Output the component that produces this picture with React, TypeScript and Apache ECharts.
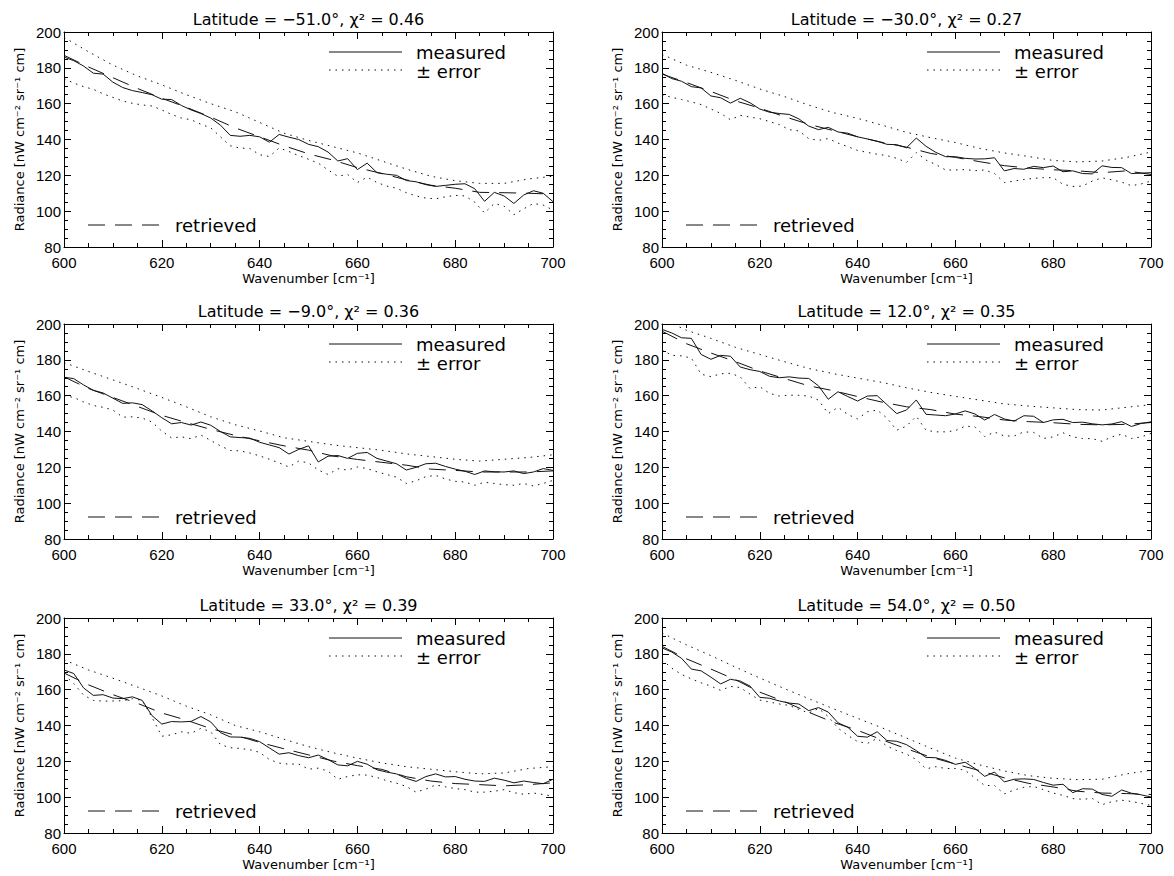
import React, { useEffect, useRef } from "react";
import * as echarts from "echarts";

const WN2 = [600, 602, 604, 606, 608, 610, 612, 614, 616, 618, 620, 622, 624, 626, 628, 630, 632, 634, 636, 638, 640, 642, 644, 646, 648, 650, 652, 654, 656, 658, 660, 662, 664, 666, 668, 670, 672, 674, 676, 678, 680, 682, 684, 686, 688, 690, 692, 694, 696, 698, 700];
const WN5 = [600, 605, 610, 615, 620, 625, 630, 635, 640, 645, 650, 655, 660, 665, 670, 675, 680, 685, 690, 695, 700];
const X_TICKS = { min: 600, max: 700, interval: 20 };
const Y_TICKS = { min: 80, max: 200, interval: 20 };

const P1_MEASURED = [186, 184, 181, 177, 176.5, 172, 169, 167.3, 166.2, 165, 162.5, 162.3, 159, 156.5, 154.5, 152, 148, 142.3, 141.8, 142.3, 141.5, 138.5, 142.8, 141.3, 140, 137.3, 136, 133, 128, 129.3, 123.2, 126.8, 121.5, 120.6, 120, 117.1, 116.4, 114.8, 113.8, 114.4, 115, 115.3, 112.5, 105.5, 110.5, 108.5, 104.3, 109, 111.4, 110, 105.3];
const P1_UPPER = [197, 189, 181.5, 175.5, 170.5, 165, 160, 155.5, 149.5, 143.5, 139.5, 136, 132.5, 128, 123.5, 119.5, 117, 115.5, 115.5, 118, 119.5];
const P1_LOWER = [174, 171.5, 169.5, 168, 165.5, 163.5, 161.5, 160.2, 159.3, 158.7, 156.5, 154, 152, 151, 148.5, 146.5, 141.5, 136.5, 135.2, 135, 131.5, 130.5, 135.3, 133.3, 131, 129, 126.8, 123, 119.5, 120.5, 116, 119, 116, 114, 112.8, 110.3, 108.5, 107.3, 106.9, 108, 108.8, 108.5, 105, 99, 104.3, 102.8, 98, 101.3, 104.3, 103.4, 100.6];
const P1_RETRIEVED = [187, 180.5, 174.5, 168.5, 163, 158, 152.5, 146.5, 141.5, 136.5, 132, 128.5, 124.3, 121, 117.5, 114.5, 112.8, 110.5, 110.3, 110, 109.5];

const P2_MEASURED = [177, 174, 172.5, 169.5, 168.8, 164.3, 163.3, 160.3, 163, 160.5, 157, 155.2, 154.5, 154, 151.5, 147.5, 145.5, 146.8, 144.2, 143.5, 141.5, 140.3, 139, 137.3, 137.1, 135.4, 140.8, 136.2, 132.8, 130.4, 130.4, 129.5, 129.1, 129.2, 129.8, 122.5, 123.8, 123.4, 125, 124.3, 125.2, 122, 122.5, 121, 120.8, 125.3, 124.4, 124.3, 121, 121.2, 121.5];
const P2_UPPER = [187.5, 181.5, 177.5, 173, 168.2, 164, 159.2, 155, 151.8, 148, 144, 141, 138.3, 135, 132.5, 130.5, 128.3, 127.5, 128, 130, 133];
const P2_LOWER = [165, 163.5, 162.3, 161, 159.5, 157, 154.6, 151, 153.5, 152.5, 151.6, 150, 148.3, 145.5, 144.8, 140.5, 139.5, 140.5, 138, 136, 133.9, 132.8, 131.8, 131, 129.5, 127.2, 132.7, 128.5, 126, 123, 123, 123.2, 122.6, 123, 121, 116, 116.8, 117.7, 118.3, 118.7, 118.7, 115, 113.8, 114, 116.8, 118.6, 117.5, 116.2, 114.2, 115.2, 116.8];
const P2_RETRIEVED = [176.5, 171.8, 166.8, 161.6, 157.5, 152.8, 148.5, 145, 141.5, 138.4, 135.7, 132.2, 130, 127.6, 125.4, 124, 123.1, 122.5, 121.5, 122.5, 120.5];

const P3_MEASURED = [170.3, 169.5, 166, 163, 161.5, 158.6, 155.7, 156, 155, 151.5, 147.7, 144.3, 145, 143.6, 145.3, 143.5, 140, 137, 136.6, 136.3, 134, 132.5, 131, 127.4, 130, 132, 123, 126.2, 126.6, 125, 127.8, 128.3, 125, 123.5, 122, 118.5, 120, 122, 122.3, 120.5, 119, 117.8, 116, 118, 117.5, 117.4, 118, 116.5, 117.4, 119.3, 118.3];
const P3_UPPER = [178.5, 173.5, 168.8, 164, 159, 153.8, 148.2, 143.8, 140.3, 136.5, 134.5, 132.5, 131, 129.5, 127.5, 126, 124.5, 123.5, 124.5, 125.5, 127];
const P3_LOWER = [160, 159, 156.5, 154.5, 153.5, 152, 148, 148.2, 147.5, 145.3, 140.2, 136.4, 137, 136, 138, 135, 132, 129.4, 129.2, 128, 126.4, 124.5, 122.5, 120.2, 123.5, 122.5, 118.5, 116, 119.2, 118.5, 120.2, 119.3, 117.5, 116, 114.5, 111, 112.5, 114.8, 115.5, 113.5, 112.2, 111.8, 110, 111.7, 111, 110.3, 110, 111, 109.6, 111, 112.7];
const P3_RETRIEVED = [170.5, 164, 159, 154, 149, 145, 141.2, 137.8, 134.8, 132, 129.6, 126.3, 124.4, 122.8, 121.2, 119, 118.3, 117.4, 117.4, 117.4, 118];

const P4_MEASURED = [197, 195, 192.3, 192, 183, 180.3, 182.5, 182, 176, 174.5, 173.5, 170.8, 170, 170.5, 169.8, 169.6, 165.5, 158, 162.2, 159.5, 157, 159.8, 160, 155, 150, 152, 157.6, 149.6, 149.2, 148.8, 149.8, 151.5, 149.8, 146.4, 149.5, 147, 145.8, 148.8, 148.5, 145, 146.5, 146.8, 145, 145.2, 144.3, 143.7, 144.2, 145.5, 142.8, 144.5, 145.4];
const P4_UPPER = [203, 196.5, 192, 187, 183, 179, 175.2, 172.3, 169.8, 167.4, 164.4, 161.8, 159.6, 157.5, 155.4, 154.2, 153.2, 152.2, 152, 153.5, 155];
const P4_LOWER = [185.6, 182.5, 182.2, 181, 172, 170.6, 172.2, 172.5, 170.5, 164, 165, 161.3, 159.8, 160.3, 160.2, 159.8, 157.5, 150, 153.5, 149.5, 147, 151, 152, 147.5, 140.7, 143, 148.5, 140.7, 139.8, 139.8, 140.5, 143, 142.6, 137.2, 139.7, 137.5, 137.5, 139.8, 139.5, 136.1, 137, 139.3, 137, 136.1, 136, 134.5, 137, 138.5, 136.1, 137, 138.9];
const P4_RETRIEVED = [196, 189, 183.8, 179, 173.8, 169.6, 165.5, 162.8, 159.5, 156.4, 153.8, 152.2, 149.7, 148.3, 146.4, 145.5, 144.9, 144, 143.7, 144, 145];

const P5_MEASURED = [171, 169, 161, 156.8, 157.2, 155.3, 155, 156, 154, 145.5, 140.8, 142.2, 142, 142.3, 145, 142, 136, 133.6, 133.5, 132.8, 131, 127.5, 124, 124.8, 123.2, 122, 123.5, 121, 118, 117.5, 120, 118.4, 115.3, 114, 113, 110.5, 108.8, 111.5, 113, 111.3, 111.5, 110, 109, 108.8, 110.6, 109.5, 108, 109, 108.2, 107.5, 110];
const P5_UPPER = [176.7, 171, 166.4, 161.5, 156.5, 150.8, 146, 140, 136.5, 132.3, 128.2, 124.8, 121.8, 119.1, 117, 115.6, 114.2, 113, 113.5, 116, 117];
const P5_LOWER = [168.4, 163.4, 157, 154, 153.6, 153.7, 153.8, 155, 154, 144.5, 134, 134.8, 136.5, 135.6, 138.4, 136.5, 129.3, 127.6, 127.2, 126.5, 125, 121, 119, 118.4, 118.5, 115.6, 116.2, 114.5, 110, 111.5, 112.5, 112.3, 111, 109.2, 107.8, 106, 102.8, 104.5, 106.8, 105.8, 104.8, 104.2, 102.8, 102.8, 103.3, 104.2, 102.5, 101.6, 102.3, 101.5, 100.5];
const P5_RETRIEVED = [169.3, 162.7, 157.2, 152.4, 147, 143, 138.3, 134.6, 130.6, 127, 123.6, 120.2, 117.6, 115.5, 111.4, 109, 107.6, 107, 106.3, 107, 108];

const P6_MEASURED = [183.3, 181, 177.5, 171.5, 170.5, 167, 163.2, 165.8, 164.8, 162, 155.7, 155.2, 153.7, 152.5, 152, 148.3, 150, 147.5, 141.5, 139, 134, 133.5, 136.5, 131.6, 131.2, 129.3, 126, 122.2, 122, 120.5, 118.3, 119.5, 116, 111.6, 114, 108.5, 110, 110.2, 109.9, 108.2, 106.7, 107.2, 102.5, 104.7, 104.5, 101.5, 100.5, 104, 102.2, 101.3, 100.1];
const P6_UPPER = [191.6, 185, 179, 172.6, 166.5, 160.6, 155, 149.4, 144, 138.7, 133, 127.3, 121.8, 118, 114.6, 112, 110.5, 109.8, 110, 113, 115];
const P6_LOWER = [176.7, 172, 168.5, 166, 163.8, 162, 159.6, 161.8, 161.2, 157.5, 154.2, 153.1, 152, 151.2, 149, 147, 149.5, 145, 138.5, 134.5, 131, 130, 132.8, 128.5, 126, 124, 121, 115.8, 117, 116, 116, 115, 110.7, 106.5, 106.5, 101.8, 104, 105.5, 106, 104.2, 102.3, 101, 99.2, 98.8, 99.3, 95.8, 97.5, 98.3, 97.6, 96.5, 95.4];
const P6_RETRIEVED = [184.2, 177.2, 171.5, 165.6, 158.6, 153.4, 147.4, 141.8, 137.3, 132, 127, 122.3, 118.5, 114.8, 110.8, 107.7, 105.7, 103.3, 102.3, 102, 101.5];

const LATITUDES = ["\u221251.0", "\u221230.0", "\u22129.0", "12.0", "33.0", "54.0"];
const CHI2 = ["0.46", "0.27", "0.36", "0.35", "0.39", "0.50"];
const MEASURED = [P1_MEASURED, P2_MEASURED, P3_MEASURED, P4_MEASURED, P5_MEASURED, P6_MEASURED];
const UPPER = [P1_UPPER, P2_UPPER, P3_UPPER, P4_UPPER, P5_UPPER, P6_UPPER];
const LOWER = [P1_LOWER, P2_LOWER, P3_LOWER, P4_LOWER, P5_LOWER, P6_LOWER];
const RETRIEVED = [P1_RETRIEVED, P2_RETRIEVED, P3_RETRIEVED, P4_RETRIEVED, P5_RETRIEVED, P6_RETRIEVED];

const COLS = [64, 662];
const ROWS = [32, 324, 618];
const PW = 489;
const PH = 215;
const INK = "#111";
const DOT = [1.5, 5];
const DASH = [17, 10];
const TEXT_FONT = "DejaVu Sans";
const NUM_FONT = "Liberation Sans";

function pairs(xs: number[], ys: number[]) {
  return xs.map((x, i) => [x, ys[i]]);
}

function buildOption() {
  const grid: any[] = [];
  const xAxis: any[] = [];
  const yAxis: any[] = [];
  const series: any[] = [];
  const graphic: any[] = [];
  const line = { lineStyle: { color: "#000", width: 1 } };

  for (let i = 0; i < 6; i++) {
    const c = i % 2;
    const r = Math.floor(i / 2);
    const L = COLS[c];
    const T = ROWS[r];
    const B = T + PH;
    grid.push({ left: L, top: T, width: PW, height: PH, containLabel: false });

    const xBase = {
      type: "value",
      gridIndex: i,
      ...X_TICKS,
      axisLine: { show: true, onZero: false, ...line },
      axisTick: { show: true, inside: true, length: 7, ...line },
      minorTick: { show: true, splitNumber: 4, length: 4, ...line },
      splitLine: { show: false },
      minorSplitLine: { show: false },
    };
    xAxis.push({
      ...xBase,
      position: "bottom",
      axisLabel: { color: "#000", fontSize: 15, fontFamily: NUM_FONT, margin: 8 },
      name: "Wavenumber [cm\u207B\u00B9]",
      nameLocation: "middle",
      nameGap: 25,
      nameTextStyle: { color: "#000", fontSize: 13, fontFamily: TEXT_FONT },
    });
    xAxis.push({ ...xBase, position: "top", axisLabel: { show: false } });

    const yBase = {
      type: "value",
      gridIndex: i,
      ...Y_TICKS,
      axisLine: { show: true, onZero: false, ...line },
      axisTick: { show: true, inside: true, length: 7, ...line },
      minorTick: { show: true, splitNumber: 4, length: 4, ...line },
      splitLine: { show: false },
      minorSplitLine: { show: false },
    };
    yAxis.push({
      ...yBase,
      position: "left",
      axisLabel: { color: "#000", fontSize: 15, fontFamily: NUM_FONT, margin: 3 },
      name: "Radiance [nW cm\u207B\u00B2 sr\u207B\u00B9 cm]",
      nameLocation: "middle",
      nameGap: 38,
      nameRotate: 90,
      nameTextStyle: { color: "#000", fontSize: 13, fontFamily: TEXT_FONT },
    });
    yAxis.push({ ...yBase, position: "right", axisLabel: { show: false } });

    const common = {
      type: "line",
      xAxisIndex: 2 * i,
      yAxisIndex: 2 * i,
      symbol: "none",
      showSymbol: false,
      silent: true,
      clip: true,
    };
    series.push({ ...common, name: "+ error", data: pairs(WN5, UPPER[i]), lineStyle: { color: INK, width: 1, type: DOT } });
    series.push({ ...common, name: "- error", data: pairs(WN2, LOWER[i]), lineStyle: { color: INK, width: 1, type: DOT } });
    series.push({ ...common, name: "retrieved", data: pairs(WN5, RETRIEVED[i]), lineStyle: { color: INK, width: 1, type: DASH } });
    series.push({ ...common, name: "measured", data: pairs(WN2, MEASURED[i]), lineStyle: { color: INK, width: 1, type: "solid" } });

    const txt = (text: string, x: number, y: number, size: number, align = "left") => ({
      type: "text",
      x,
      y,
      silent: true,
      style: {
        text,
        fill: "#000",
        fontSize: size,
        fontFamily: TEXT_FONT,
        lineHeight: size,
        align,
        textAlign: align,
        verticalAlign: "middle",
        textVerticalAlign: "middle",
      },
    });
    const seg = (x1: number, x2: number, y: number, dash: number[] | null) => ({
      type: "line",
      silent: true,
      shape: { x1, y1: y, x2, y2: y },
      style: { stroke: INK, lineWidth: 1, lineDash: dash || undefined },
    });

    graphic.push(txt(`Latitude = ${LATITUDES[i]}\u00B0, \u03C7\u00B2 = ${CHI2[i]}`, L + PW / 2, T - 13, 16, "center"));
    graphic.push(seg(L + 265, L + 338, T + 20, null));
    graphic.push(txt("measured", L + 352, T + 20, 18));
    graphic.push(seg(L + 265, L + 338, T + 38, DOT));
    graphic.push(txt("\u00B1 error", L + 352, T + 39, 18));
    graphic.push(seg(L + 24, L + 97, B - 22, DASH));
    graphic.push(txt("retrieved", L + 111, B - 22, 18));
  }

  return {
    animation: false,
    backgroundColor: "#fff",
    grid,
    xAxis,
    yAxis,
    series,
    graphic,
  };
}

export default function App() {
  const ref = useRef<HTMLDivElement>(null);
  useEffect(() => {
    if (!ref.current) return;
    const chart = echarts.init(ref.current, undefined, { renderer: "svg" });
    chart.setOption(buildOption() as any);
    return () => chart.dispose();
  }, []);
  return (
    <div
      ref={ref}
      style={{ position: "absolute", left: 0, top: 0, width: 1174, height: 876, background: "#fff" }}
    />
  );
}
